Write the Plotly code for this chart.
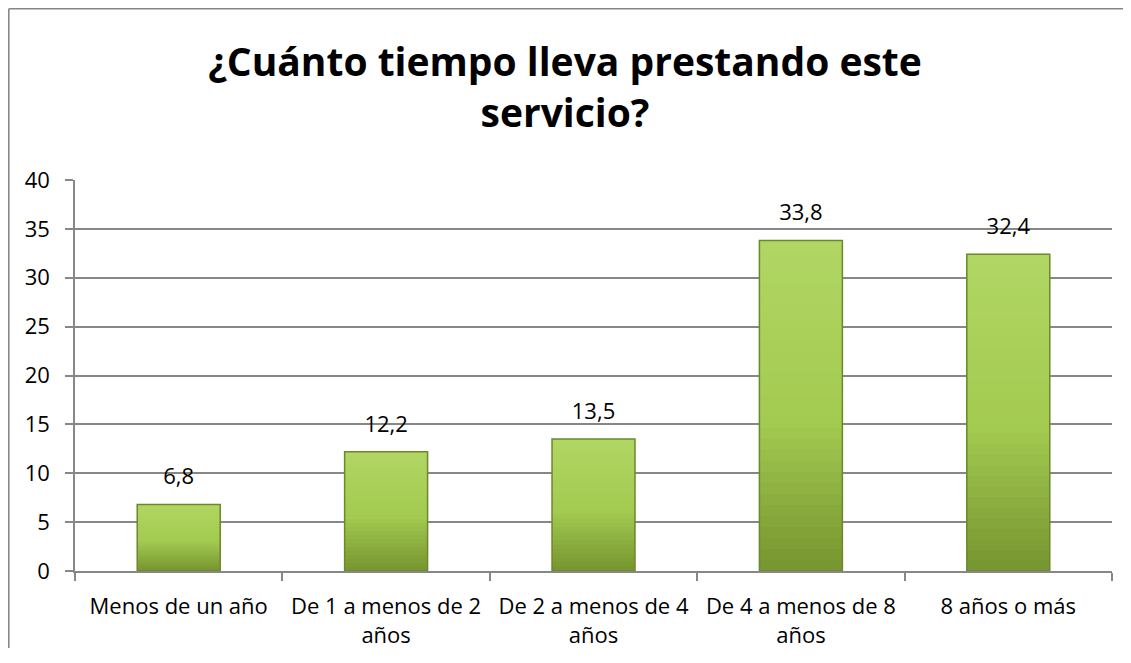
import plotly.graph_objects as go

categories = ["Menos de un año", "De 1 a menos de 2<br>años", "De 2 a menos de 4<br>años",
              "De 4 a menos de 8<br>años", "8 años o más"]
values = [6.8, 12.2, 13.5, 33.8, 32.4]
labels = [f"{v:.1f}".replace(".", ",") for v in values]
title_text = "¿Cuánto tiempo lleva prestando este<br>servicio?"

# page has an 8px body margin -> keep the figure inside the viewport
W, H = 1115, 640
ML, MR, MT, MB = 67, 11, 172, 77
PW, PH = W - ML - MR, H - MT - MB

FONT = "Open Sans"
FS = 22

def lerp(c1, c2, t):
    return "#%02x%02x%02x" % tuple(int(round(a + (b - a) * t)) for a, b in zip(c1, c2))

top_c = (0xb1, 0xd6, 0x63)
mid_c = (0xa3, 0xca, 0x51)
bot_c = (0x78, 0x96, 0x31)

fig = go.Figure()
N = 30
for k in range(N):
    t = k / (N - 1)  # 0 = bottom, 1 = top
    if t < 0.45:
        col = lerp(bot_c, mid_c, t / 0.45)
    else:
        col = lerp(mid_c, top_c, (t - 0.45) / 0.55)
    # each band runs from its base to the top of the bar; later bands cover earlier ones
    fig.add_trace(go.Bar(
        x=categories, y=[v * (N - k) / N for v in values], base=[v * k / N for v in values],
        width=0.4, marker=dict(color=col, line=dict(width=0)),
        hoverinfo="skip", showlegend=False))

fig.add_trace(go.Bar(
    x=categories, y=values, width=0.4,
    marker=dict(color="rgba(0,0,0,0)", line=dict(color="#6a8a2a", width=1.5)),
    showlegend=False, hovertemplate="%{y}<extra></extra>"))

fig.add_trace(go.Scatter(
    x=categories, y=values, mode="markers+text", text=labels,
    textposition="top center", marker=dict(size=22, opacity=0),
    textfont=dict(family=FONT, size=FS, color="#000000"),
    hoverinfo="skip", showlegend=False, cliponaxis=False))

border = dict(color="#878787", width=1.6)
fig.update_layout(
    width=W, height=H, barmode="overlay", bargap=0.6,
    margin=dict(l=ML, r=MR, t=MT, b=MB, autoexpand=False),
    paper_bgcolor="white", plot_bgcolor="white",
    font=dict(family=FONT, size=FS, color="#000000"),
    title=dict(text=title_text, x=(565 - 8) / W, xanchor="center", xref="container",
               y=1 - 68 / H, yanchor="top", yref="container",
               font=dict(family=FONT, size=39, color="#000000", weight="bold")),
    xaxis=dict(showline=True, linecolor="#878787", linewidth=1.5, automargin=False,
               ticks="outside", ticklen=8, tickcolor="#878787", tickwidth=1.5,
               tickson="boundaries", showgrid=False, ticklabelstandoff=15,
               tickfont=dict(family=FONT, size=FS, color="#000000")),
    yaxis=dict(range=[0, 40], dtick=5, showline=True, linecolor="#878787", linewidth=1.5,
               ticks="outside", ticklen=8, tickcolor="#878787", tickwidth=1.5, automargin=False,
               showgrid=True, gridcolor="#878787", gridwidth=1.5, zeroline=False,
               ticklabelstandoff=11,
               tickfont=dict(family=FONT, size=FS, color="#000000")),
    shapes=[
        dict(type="line", xref="paper", yref="paper",
             x0=(0.8 - ML) / PW, x1=(0.8 - ML) / PW,
             y0=-MB / PH, y1=(H - 0.8 - MB) / PH, line=border, layer="below"),
        dict(type="line", xref="paper", yref="paper",
             x0=(0.8 - ML) / PW, x1=(W - ML) / PW,
             y0=(H - 0.8 - MB) / PH, y1=(H - 0.8 - MB) / PH, line=border, layer="below"),
    ],
)

fig.write_html("out.html")
